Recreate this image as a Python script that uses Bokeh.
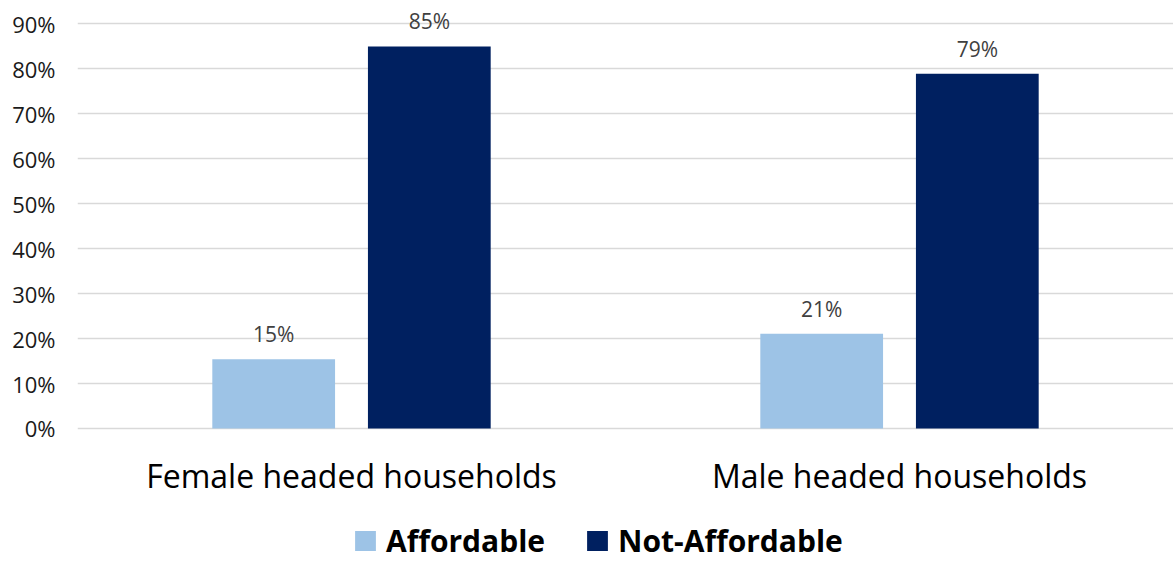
from bokeh.plotting import figure
from bokeh.models import ColumnDataSource, FactorRange, Range1d, FixedTicker, Legend, LegendItem, CustomJSTickFormatter
from bokeh.transform import dodge
from bokeh.core.properties import value
from bokeh.embed import file_html
from bokeh.resources import INLINE

categories = ["Female headed households", "Male headed households"]
affordable = [15.4, 21.1]
not_affordable = [85.0, 78.9]
y_ticks = [0, 10, 20, 30, 40, 50, 60, 70, 80, 90]

src = ColumnDataSource(dict(
    cat=categories,
    aff=affordable,
    naff=not_affordable,
    aff_lbl=[f"{round(v)}%" for v in affordable],
    naff_lbl=[f"{round(v)}%" for v in not_affordable],
))

FONT = "Open Sans"
LIGHT = "#9DC3E6"
DARK = "#002060"

p = figure(width=1173, height=561, x_range=FactorRange(*categories, range_padding=0),
           y_range=Range1d(-29.6, 93), output_backend="svg", toolbar_location=None,
           x_axis_location=None,
           min_border_left=77, min_border_right=0, min_border_top=10, min_border_bottom=0)
p.outline_line_color = None
p.background_fill_color = "white"

r1 = p.vbar(x=dodge("cat", -0.142, range=p.x_range), top="aff", width=0.224, source=src,
            fill_color=LIGHT, line_color=None)
r2 = p.vbar(x=dodge("cat", 0.142, range=p.x_range), top="naff", width=0.224, source=src,
            fill_color=DARK, line_color=None)

for off, col, lbl in [(-0.142, "aff", "aff_lbl"), (0.142, "naff", "naff_lbl")]:
    p.text(x=dodge("cat", off, range=p.x_range), y=col, text=lbl, source=src,
           text_align="center", text_baseline="alphabetic", y_offset=-25,
           text_font=value(FONT), text_font_size="21px", text_color="#404040")

# category labels (below the 0% line)
p.text(x="cat", y=value(0), text="cat", source=src, y_offset=47,
       text_align="center", text_baseline="middle",
       text_font=value(FONT), text_font_size="32px", text_color="#000000")

# y axis
p.yaxis.ticker = FixedTicker(ticks=y_ticks)
p.yaxis.formatter = CustomJSTickFormatter(code="return tick + '%';")
p.yaxis.axis_line_color = None
p.yaxis.major_tick_line_color = None
p.yaxis.minor_tick_line_color = None
p.yaxis.major_label_standoff = 16
p.yaxis.major_label_text_font = FONT
p.yaxis.major_label_text_font_size = "22px"
p.yaxis.major_label_text_color = "#1a1a1a"

p.ygrid.ticker = FixedTicker(ticks=y_ticks)
p.ygrid.grid_line_color = "#D9D9D9"
p.ygrid.grid_line_width = 1.3
p.xgrid.grid_line_color = None

legend = Legend(items=[LegendItem(label="Affordable", renderers=[r1]),
                       LegendItem(label="Not-Affordable", renderers=[r2])],
                orientation="horizontal", location=(275, 0),
                label_text_font=FONT, label_text_font_size="30px", label_text_font_style="bold",
                label_text_color="#000000", glyph_width=26, glyph_height=25, label_standoff=8,
                spacing=39, padding=0, margin=0, border_line_color=None, background_fill_alpha=0)
p.add_layout(legend, "center")

open("out.html", "w").write(file_html(p, INLINE))
